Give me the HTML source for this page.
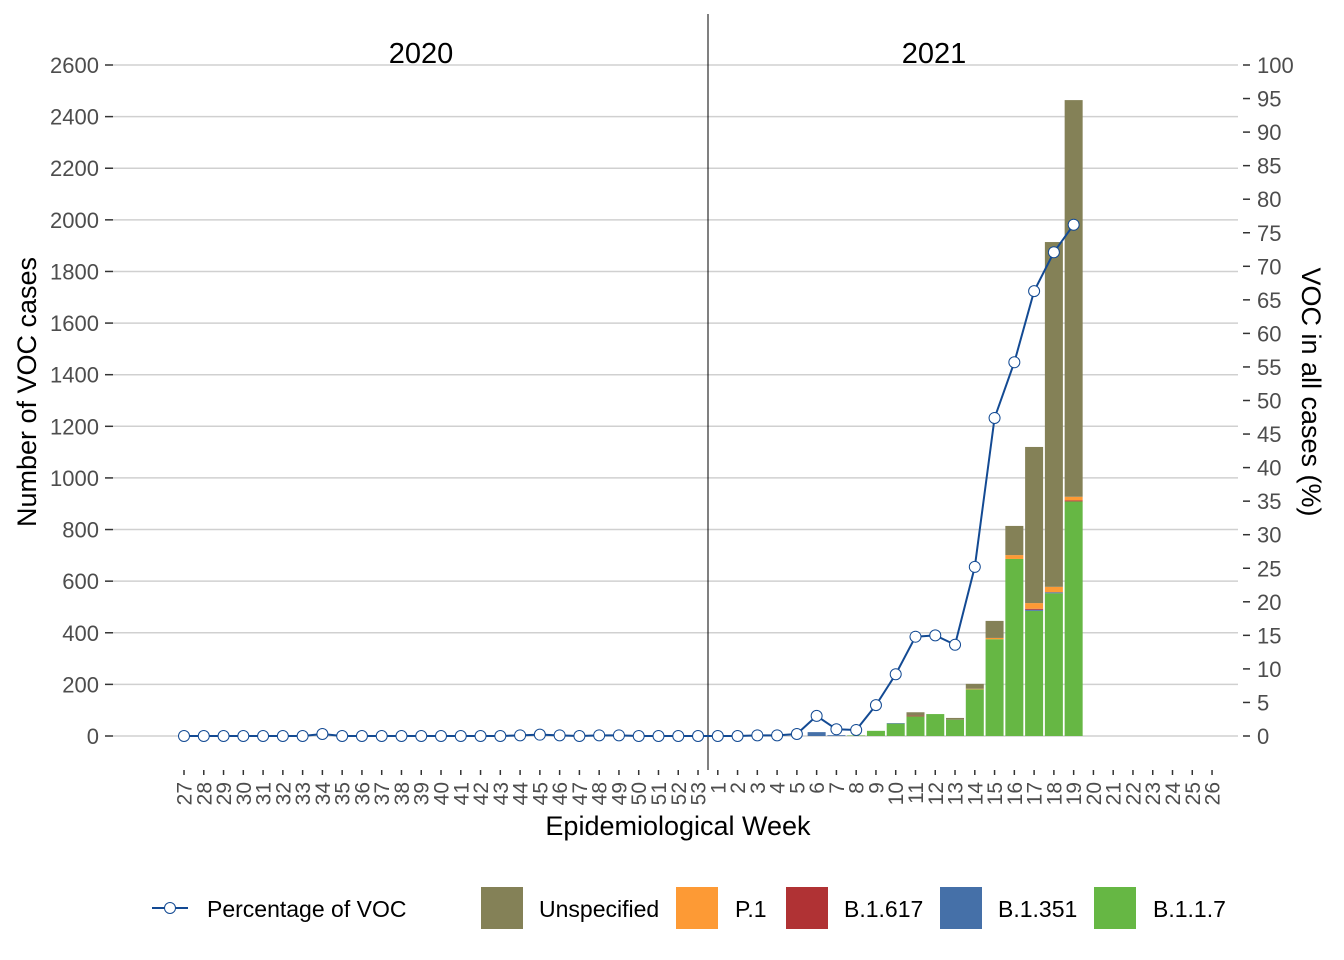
<!DOCTYPE html>
<html><head><meta charset="utf-8"><style>body{margin:0;background:#fff}svg{display:block}text{font-family:"Liberation Sans",Arial,sans-serif}</style></head>
<body>
<svg id="s" width="1344" height="960" xmlns="http://www.w3.org/2000/svg"></svg>
<script>
const s=document.getElementById('s');let h='';
const Y0=736,k=671/2600,kp=6.71;
const X=i=>184+i*19.77;
for(let v=0;v<=2600;v+=200){const y=Y0-v*k;h+=`<line x1="113" x2="1238" y1="${y}" y2="${y}" stroke="#d0d0d0" stroke-width="1.5"/><line x1="105" x2="113" y1="${y}" y2="${y}" stroke="#333" stroke-width="1.5"/><text x="99" y="${y+8}" font-size="22" fill="#4d4d4d" text-anchor="end">${v}</text>`;}
for(let p=0;p<=100;p+=5){const y=Y0-p*kp;h+=`<line x1="1243" x2="1250" y1="${y}" y2="${y}" stroke="#333" stroke-width="1.5"/><text x="1257" y="${y+8}" font-size="22" fill="#4d4d4d">${p}</text>`;}
const wk=[];for(let w=27;w<=53;w++)wk.push(w);for(let w=1;w<=26;w++)wk.push(w);
wk.forEach((w,i)=>{const x=X(i);h+=`<line x1="${x}" x2="${x}" y1="770" y2="775" stroke="#333" stroke-width="1.5"/><text transform="translate(${x+7.5},782) rotate(-90)" font-size="21" fill="#4d4d4d" text-anchor="end">${w}</text>`;});
const B=[[6,0,15,0,0,15],[7,0,3,0,0,3],[8,2,0,0,0,2],[9,20,0,0,0,20],[10,48,2,0,0,50],[11,76,0,3,0,92],[12,85,0,0,0,85],[13,63,0,0,0,70],[14,181,0,0,2,202],[15,375,0,0,5,446],[16,686,0,0,15,814],[17,485,4,4,22,1120],[18,553,4,0,21,1914],[19,909,0,4,14,2464]];
B.forEach(b=>{const x=X(26+b[0])-9;let c=0;const seg=(v,col)=>{if(v<=0)return;const y1=Y0-(c+v)*k,y0=Y0-c*k;h+=`<rect x="${x}" y="${y1}" width="18" height="${y0-y1}" fill="${col}"/>`;c+=v;};
seg(b[1],'#66b744');seg(b[2],'#4570a8');seg(b[3],'#b03234');seg(b[4],'#fd9a35');seg(b[5]-c,'#848157');});
h+=`<line x1="708" x2="708" y1="14" y2="770" stroke="#000" stroke-width="1"/>`;
const P=[0,0,0,0,0,0,0,0.3,0,0,0,0,0,0,0,0,0,0.1,0.2,0.1,0,0.1,0.1,0,0,0,0,
0,0,0.1,0.1,0.3,3,1,0.9,4.6,9.2,14.8,15,13.6,25.2,47.4,55.7,66.3,72.1,76.2];
let pts=P.map((p,i)=>`${X(i)},${Y0-p*kp}`).join(' ');
h+=`<polyline points="${pts}" fill="none" stroke="#134a93" stroke-width="2"/>`;
P.forEach((p,i)=>h+=`<circle cx="${X(i)}" cy="${Y0-p*kp}" r="5.5" fill="#fff" stroke="#134a93" stroke-width="1"/>`);
h+=`<text x="421" y="63" font-size="29" text-anchor="middle">2020</text><text x="934" y="63" font-size="29" text-anchor="middle">2021</text>`;
h+=`<text x="678" y="835" font-size="27" text-anchor="middle">Epidemiological Week</text>`;
h+=`<text transform="translate(36,392) rotate(-90)" font-size="27" text-anchor="middle">Number of VOC cases</text>`;
h+=`<text transform="translate(1302,392) rotate(90)" font-size="27" text-anchor="middle">VOC in all cases (%)</text>`;
h+=`<line x1="152" x2="188" y1="908" y2="908" stroke="#134a93" stroke-width="2"/><circle cx="170" cy="908" r="5.5" fill="#fff" stroke="#134a93"/><text x="207" y="917" font-size="23">Percentage of VOC</text>`;
[[481,'#848157','Unspecified',539],[676,'#fd9a35','P.1',735],[786,'#b03234','B.1.617',844],[940,'#4570a8','B.1.351',998],[1094,'#66b744','B.1.1.7',1153]].forEach(l=>{h+=`<rect x="${l[0]}" y="887" width="42" height="42" fill="${l[1]}"/><text x="${l[3]}" y="917" font-size="23">${l[2]}</text>`;});
s.innerHTML=h;
</script>
</body></html>
